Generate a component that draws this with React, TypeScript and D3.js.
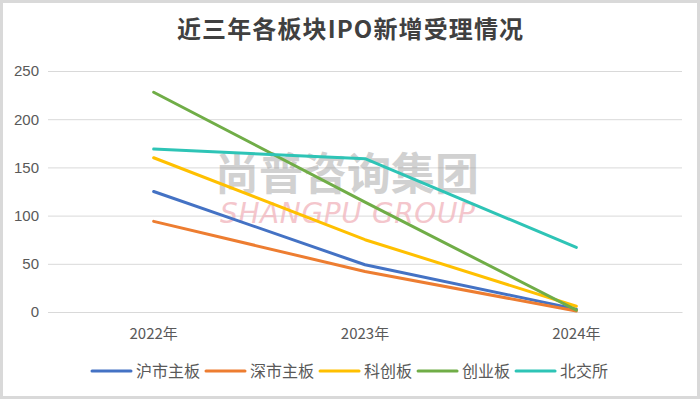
import { useRef, useEffect } from 'react';
import * as d3 from 'd3';

// chart data
const years = ['2022年', '2023年', '2024年'];
const seriesNames = ['沪市主板', '深市主板', '科创板', '创业板', '北交所'];
const shMain = [125, 49, 3];
const szMain = [94, 42, 1];
const star = [160, 75, 6];
const chiNext = [228, 114, 2];
const bse = [169, 159, 67];
const yTicks = [0, 50, 100, 150, 200, 250];

const colors = ['#4472c4', '#ed7d31', '#ffc000', '#70ad47', '#2ec4b6'];

const width = 700;
const height = 399;

export default function App() {
  const svgRef = useRef<SVGSVGElement | null>(null);

  useEffect(() => {
    const svg = d3.select(svgRef.current);
    svg.selectAll('*').remove();

    const font = '"Noto Sans CJK SC", "Noto Sans", sans-serif';
    const allSeries = [shMain, szMain, star, chiNext, bse];

    // background + border
    svg.append('rect')
      .attr('x', 1.5).attr('y', 1.5)
      .attr('width', width - 3).attr('height', height - 3)
      .attr('fill', '#fff')
      .attr('stroke', '#d9d9d9')
      .attr('stroke-width', 3);

    // title
    svg.append('text')
      .attr('x', 177).attr('y', 38)
      .attr('textLength', 346)
      .attr('lengthAdjust', 'spacing')
      .attr('font-family', font)
      .attr('font-size', 24)
      .attr('font-weight', 'bold')
      .attr('fill', '#404040')
      .text('近三年各板块IPO新增受理情况');

    const x = d3.scaleBand().domain(years).range([48, 682]);
    const y = d3.scaleLinear().domain([0, 250]).range([312, 71]);

    // gridlines + y axis
    const yAxis = d3.axisLeft(y).tickValues(yTicks).tickSize(-(682 - 48)).tickPadding(9);
    const yg = svg.append('g').attr('transform', 'translate(48,0)').call(yAxis);
    yg.select('.domain').remove();
    yg.selectAll('line').attr('stroke', '#d9d9d9').attr('stroke-width', 1);
    yg.selectAll('text')
      .attr('font-family', '"Liberation Sans", Arial, sans-serif')
      .attr('font-size', 15)
      .attr('fill', '#595959');

    const xAxis = d3.axisBottom(x).tickSize(0).tickPadding(16);
    const xg = svg.append('g').attr('transform', 'translate(0,312)').call(xAxis);
    xg.select('.domain').attr('stroke', '#d9d9d9');
    xg.selectAll('text')
      .attr('font-family', font)
      .attr('font-size', 15)
      .attr('fill', '#595959');

    // watermark
    svg.append('text')
      .attr('x', 347).attr('y', 190)
      .attr('text-anchor', 'middle')
      .attr('font-family', font)
      .attr('font-size', 44)
      .attr('font-weight', 'bold')
      .attr('fill', '#9a9a9a')
      .attr('opacity', 0.45)
      .text('尚普咨询集团');
    svg.append('text')
      .attr('x', 220).attr('y', 223)
      .attr('textLength', 255)
      .attr('lengthAdjust', 'spacing')
      .attr('font-family', '"DejaVu Sans", sans-serif')
      .attr('font-size', 28)
      .attr('font-style', 'italic')
      .attr('fill', '#f2b8c0')
      .attr('opacity', 0.8)
      .text('SHANGPU GROUP');

    // lines
    const line = d3.line<number>()
      .x((_, i) => (x(years[i]) as number) + x.bandwidth() / 2)
      .y((d) => y(d));

    allSeries.forEach((s, i) => {
      svg.append('path')
        .datum(s)
        .attr('d', line)
        .attr('fill', 'none')
        .attr('stroke', colors[i])
        .attr('stroke-width', 3)
        .attr('stroke-linecap', 'round')
        .attr('stroke-linejoin', 'round');
    });

    // legend
    let lx = 92;
    const ly = 371;
    seriesNames.forEach((name, i) => {
      svg.append('line')
        .attr('x1', lx).attr('x2', lx + 39)
        .attr('y1', ly).attr('y2', ly)
        .attr('stroke', colors[i])
        .attr('stroke-width', 3)
        .attr('stroke-linecap', 'round');
      const t = svg.append('text')
        .attr('x', lx + 44).attr('y', ly + 6)
        .attr('font-family', font)
        .attr('font-size', 16)
        .attr('fill', '#595959')
        .text(name);
      const w = (t.node() as SVGTextElement).getComputedTextLength();
      lx += 44 + w + 6;
    });
  }, []);

  return (
    <svg
      ref={svgRef}
      width={width}
      height={height}
      style={{ position: 'absolute', left: 0, top: 0, display: 'block' }}
    />
  );
}
